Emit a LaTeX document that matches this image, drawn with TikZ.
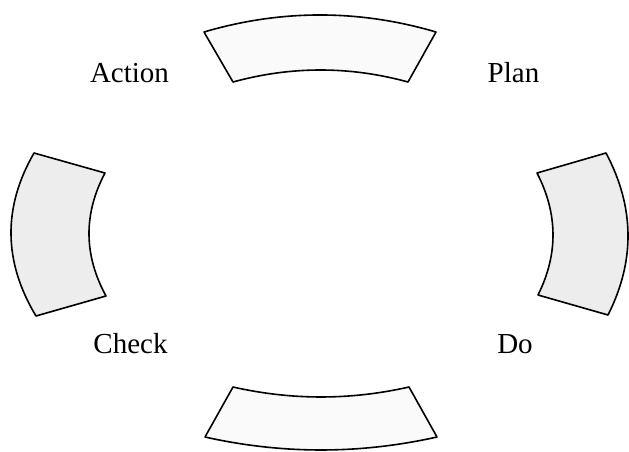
\documentclass[tikz,border=0pt]{standalone}
\usepackage{fontspec}
\setmainfont{Liberation Serif}
\begin{document}
\begin{tikzpicture}[x=1pt,y=-1pt,
  seg/.style={draw=black, line width=1.6pt, line join=round},
  sidefill/.style={fill=black!7},
  endfill/.style={fill=black!2},
  lbl/.style={anchor=base, inner sep=0pt, font=\fontsize{29}{31}\selectfont}]
\useasboundingbox (0,0) rectangle (629,451);
% top segment
\path[seg,endfill] (204,32) .. controls (281,9.3) and (359,9.3) .. (436,32)
  -- (408,82) .. controls (349.7,66) and (291.3,66) .. (233,82) -- cycle;
% bottom segment
\path[seg,endfill] (233,387) .. controls (291.7,400.3) and (350.3,400.3) .. (409,387)
  -- (437,437) .. controls (359.7,454.3) and (282.3,454.3) .. (205,437) -- cycle;
% left segment
\path[seg,sidefill] (34,153) .. controls (2.7,207.3) and (3.3,261.7) .. (36,316)
  -- (106,296) .. controls (83.7,255) and (83.3,214) .. (105,173) -- cycle;
% right segment
\path[seg,sidefill] (606,153) .. controls (634.7,207) and (635.3,261) .. (608,315)
  -- (538,295) .. controls (558.3,254.3) and (558,213.7) .. (537,173) -- cycle;
% labels
\node[lbl] (action) at (129.5,82) {Action};
\node[lbl] (plan) at (513.5,82) {Plan};
\node[lbl] (check) at (130.5,353) {Check};
\node[lbl] (do) at (515,353) {Do};
\end{tikzpicture}
\end{document}
